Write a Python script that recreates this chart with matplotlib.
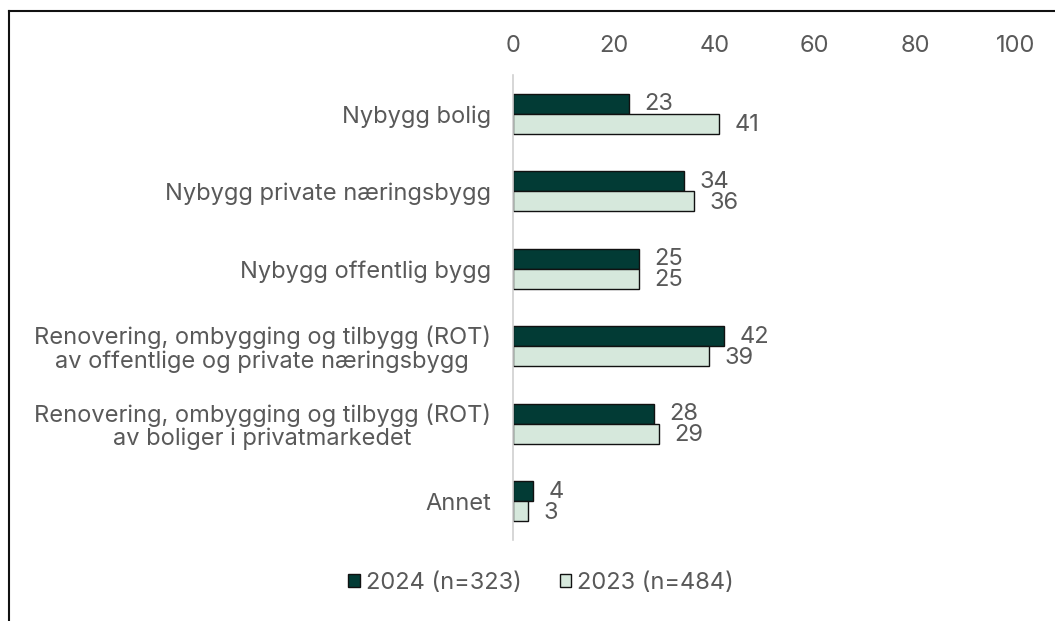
import matplotlib
matplotlib.use("Agg")
import matplotlib.pyplot as plt
import numpy as np
from matplotlib.lines import Line2D
from matplotlib.patches import Patch

categories = [
    "Nybygg bolig",
    "Nybygg private næringsbygg",
    "Nybygg offentlig bygg",
    "Renovering, ombygging og tilbygg (ROT)\nav offentlige og private næringsbygg",
    "Renovering, ombygging og tilbygg (ROT)\nav boliger i privatmarkedet",
    "Annet",
]
values_2024 = [23, 34, 25, 42, 28, 4]
values_2023 = [41, 36, 25, 39, 29, 3]
series_labels = ["2024 (n=323)", "2023 (n=484)"]
xticks = [0, 20, 40, 60, 80, 100]

plt.rcParams['font.family'] = ['Inter', 'DejaVu Sans']
txt = '#595959'
dark = '#023b35'
light = '#d6e8dc'
fs = 17

fig = plt.figure(figsize=(10.55, 6.21), dpi=100)
ax = fig.add_axes([0.4863, 0.1304, 0.4768, 0.7488])

y = np.arange(len(categories))
h = 0.26
ax.barh(y - h/2, values_2024, height=h, color=dark, edgecolor='#111111', linewidth=1.0, label=series_labels[0])
ax.barh(y + h/2, values_2023, height=h, color=light, edgecolor='#111111', linewidth=1.0, label=series_labels[1])

for yi, v in zip(y, values_2024):
    ax.text(v + 3.0, yi - h/2 + 0.01, str(v), va='center', ha='left', fontsize=fs, color=txt)
for yi, v in zip(y, values_2023):
    ax.text(v + 3.0, yi + h/2 + 0.02, str(v), va='center', ha='left', fontsize=fs, color=txt)

ax.set_xlim(0, 100)
ax.set_ylim(len(categories) - 0.5, -0.5)
ax.set_yticks(y)
ax.set_yticklabels(categories, fontsize=fs, color=txt, ha='right', multialignment='center',
                   linespacing=1.05)
ax.set_xticks(xticks)
ax.set_xticklabels([str(t) for t in xticks], fontsize=fs, color=txt)
ax.xaxis.tick_top()
ax.tick_params(axis='x', length=0, pad=13)
ax.tick_params(axis='y', length=0, pad=16)
for s in ['top', 'right', 'bottom']:
    ax.spines[s].set_visible(False)
ax.spines['left'].set_color('#d0d0d0')
ax.spines['left'].set_linewidth(1.2)

leg = fig.legend(handles=[Patch(facecolor=dark, edgecolor='#111111', label=series_labels[0]),
                          Patch(facecolor=light, edgecolor='#111111', label=series_labels[1])],
                 loc='center', bbox_to_anchor=(0.513, 0.061), ncol=2, frameon=False,
                 fontsize=fs, handlelength=0.5, handleheight=0.5, handletextpad=0.25,
                 columnspacing=1.6, labelcolor=txt)

# outer frame (top and left lines)
fig.add_artist(Line2D([9/1055, 1], [1 - 11/621, 1 - 11/621], color='#111111', lw=1.5, transform=fig.transFigure))
fig.add_artist(Line2D([9/1055, 9/1055], [0, 1 - 11/621], color='#111111', lw=1.5, transform=fig.transFigure))

fig.savefig('out.png', dpi=100, facecolor='white')
